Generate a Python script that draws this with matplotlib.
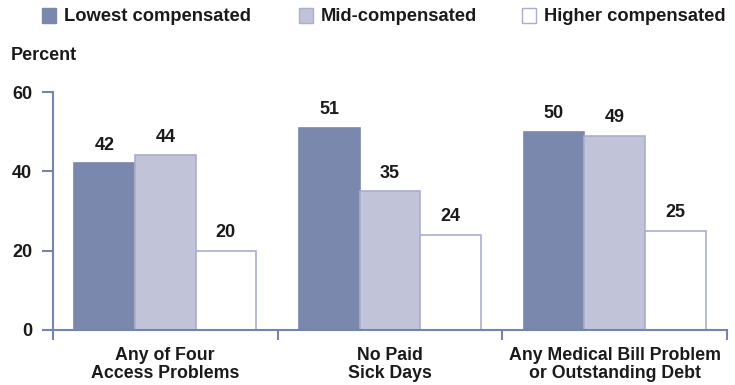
import matplotlib
matplotlib.use("Agg")
import matplotlib.pyplot as plt
from matplotlib.patches import Rectangle
import numpy as np

categories = ["Any of Four\nAccess Problems", "No Paid\nSick Days",
              "Any Medical Bill Problem\nor Outstanding Debt"]
series_names = ["Lowest compensated", "Mid-compensated", "Higher compensated"]
lowest = [42, 51, 50]
mid = [44, 35, 49]
higher = [20, 24, 25]
y_ticks = [0, 20, 40, 60]

plt.rcParams["font.family"] = ["Liberation Sans", "DejaVu Sans"]
plt.rcParams["font.weight"] = "bold"

axis_col = "#7583b0"
fills = ["#7a88ad", "#c1c4d8", "#ffffff"]
edges = ["#7a88ad", "#a9aecb", "#a9aecb"]
text_col = "#1a1a1a"
fs = 13

fig = plt.figure(figsize=(7.35, 3.85), dpi=100)
ax = fig.add_axes([0.072, 0.143, 0.917, 0.618])

x = np.arange(len(categories))
w = 0.27
for i, vals in enumerate([lowest, mid, higher]):
    pos = x + (i - 1) * w
    ax.bar(pos, vals, width=w, color=fills[i], edgecolor=edges[i],
           linewidth=1.2, zorder=2)
    for p, v in zip(pos, vals):
        ax.text(p, v + 2.4, str(v), ha="center", va="bottom",
                fontsize=fs, fontweight="bold", color=text_col)

ax.set_xlim(-0.5, 2.5)
ax.set_ylim(0, 60)
ax.set_yticks(y_ticks)
ax.set_yticklabels([str(t) for t in y_ticks], fontsize=fs,
                   fontweight="bold", color=text_col)
ax.set_xticks([-0.5, 0.5, 1.5, 2.5])
ax.set_xticklabels([])
ax.set_xticks(x, minor=True)
ax.set_xticklabels(categories, minor=True, fontsize=12.8,
                   fontweight="bold", color=text_col, linespacing=1.1)
ax.tick_params(axis="x", which="minor", length=0, pad=12)
ax.tick_params(axis="x", which="major", length=7, width=1.5,
               color=axis_col, direction="out")
ax.tick_params(axis="y", length=8, width=1.5, color=axis_col, pad=7)

for side in ["top", "right"]:
    ax.spines[side].set_visible(False)
for side in ["left", "bottom"]:
    ax.spines[side].set_color(axis_col)
    ax.spines[side].set_linewidth(1.5)

fig.text(0.014, 0.857, "Percent", fontsize=fs, fontweight="bold",
         color=text_col, va="center")

# legend row across the top
leg_x = [0.057, 0.407, 0.710]
for i, name in enumerate(series_names):
    fig.patches.append(Rectangle((leg_x[i], 0.940), 0.019, 0.039,
                                 transform=fig.transFigure,
                                 facecolor=fills[i], edgecolor=edges[i],
                                 linewidth=1.0))
    fig.text(leg_x[i] + 0.030, 0.958, name, fontsize=13.2,
             fontweight="bold", color=text_col, va="center")

fig.savefig("out.png", dpi=100)
